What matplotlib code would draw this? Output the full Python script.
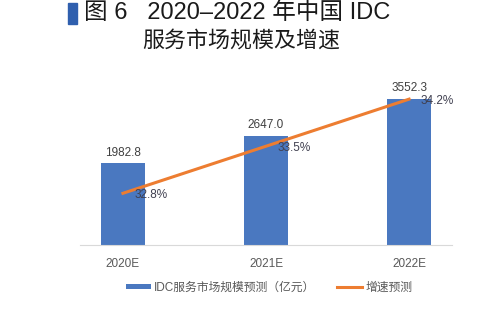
import matplotlib
matplotlib.use("Agg")
import matplotlib.pyplot as plt
from matplotlib.patches import Rectangle

plt.rcParams['font.family'] = ['Liberation Sans', 'Noto Sans CJK SC', 'DejaVu Sans']

years = ["2020E", "2021E", "2022E"]
market = [1982.8, 2647.0, 3552.3]
growth = [32.8, 33.5, 34.2]
market_labels = ["1982.8", "2647.0", "3552.3"]
growth_labels = ["32.8%", "33.5%", "34.2%"]

blue = "#4a78c0"
orange = "#ed7d31"
grey = "#595959"

fig = plt.figure(figsize=(5, 3.15), dpi=100)
ax = fig.add_axes([0.16, 0.222, 0.744, 0.523])
x = list(range(len(years)))
bars = ax.bar(x, market, width=0.31, color=blue, label="IDC服务市场规模预测（亿元）", zorder=2)
ax.set_xlim(-0.3, 2.3)
ax.set_ylim(0, 4000)
ax.set_yticks([])
ax.set_xticks(x)
ax.set_xticklabels(years, fontsize=8.5, color=grey)
ax.tick_params(axis='x', length=0, pad=9)
for s in ["top", "left", "right"]:
    ax.spines[s].set_visible(False)
ax.spines["bottom"].set_color("#d9d9d9")

for xi, v, lab in zip(x, market, market_labels):
    ax.annotate(lab, (xi, v), xytext=(0, 3.5), textcoords="offset points",
                ha="center", va="bottom", fontsize=8.5, color="#404040")

ax2 = ax.twinx()
line, = ax2.plot(x, growth, color=orange, lw=2.2, label="增速预测", zorder=3)
ax2.set_ylim(32.03, 34.48)
ax2.set_yticks([])
for s in ["top", "left", "right", "bottom"]:
    ax2.spines[s].set_visible(False)
for xi, v, lab in zip(x, growth, growth_labels):
    ax2.annotate(lab, (xi, v), xytext=(8, -1), textcoords="offset points",
                 ha="left", va="center", fontsize=8.5, color="#404050")

fig.legend([bars, line], ["IDC服务市场规模预测（亿元）", "增速预测"],
           loc="center", bbox_to_anchor=(0.538, 0.086), ncol=2, frameon=False,
           fontsize=8.5, handlelength=2.1, handleheight=0.3, handletextpad=0.25,
           columnspacing=1.9, labelcolor=grey)

# title
fig.patches.append(Rectangle((68 / 500, 1 - 24 / 315), 9 / 500, 21 / 315,
                             transform=fig.transFigure, color="#2f5fae"))
fig.text(84 / 500, 1 - 13 / 315, "图 6   2020–2022 年中国 IDC",
         family=['Liberation Sans', 'Noto Sans CJK SC'],
         fontsize=17, color="#1a1a1a", ha="left", va="center")
fig.text(241 / 500, 1 - 41 / 315, "服务市场规模及增速",
         family=['Noto Sans CJK SC', 'DejaVu Sans'],
         fontsize=15.8, color="#1a1a1a", ha="center", va="center")

fig.savefig("out.png", dpi=100)
